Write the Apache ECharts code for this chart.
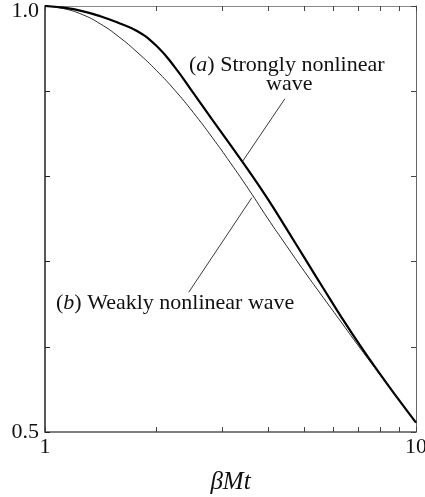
<!DOCTYPE html>
<html>
<head>
<meta charset="utf-8">
<script src="https://cdn.jsdelivr.net/npm/echarts@6/dist/echarts.min.js"></script>
<style>
html, body { margin: 0; padding: 0; background: #fff; }
#container { width: 425px; height: 497px; }
</style>
</head>
<body>
<div id="container"></div>
<script>
var dom = document.getElementById("container");
var myChart = echarts.init(dom);

// βMt values, read at even steps along the log axis
var betaMt = [1, 1.12, 1.26, 1.41, 1.58, 1.78, 2.0, 2.24, 2.51, 2.82, 3.16, 3.55, 3.98, 4.47, 5.01, 5.62, 6.31, 7.08, 7.94, 8.91, 10];
// (a) strongly nonlinear wave - thick line
var strongWave = [1.000, 0.998, 0.994, 0.988, 0.980, 0.970, 0.953, 0.928, 0.898, 0.867, 0.837, 0.806, 0.774, 0.739, 0.704, 0.669, 0.634, 0.601, 0.570, 0.540, 0.511];
// (b) weakly nonlinear wave - thin line
var weakWave = [1.000, 0.997, 0.990, 0.979, 0.964, 0.945, 0.924, 0.901, 0.875, 0.846, 0.816, 0.784, 0.751, 0.719, 0.688, 0.658, 0.628, 0.598, 0.569, 0.540, 0.511];

var xTicks = [1, 2, 3, 4, 5, 6, 7, 8, 9, 10];
var xLabels = [1, 10];
var yLabels = [0.5, 1.0];

// pointer lines from the labels to the curves [x1, y1, x2, y2]
var pointerA = [4.43, 0.891, 3.40, 0.817];
var pointerB = [2.44, 0.664, 3.61, 0.775];

function pairs(xs, ys) {
    var d = [];
    for (var i = 0; i < xs.length; i++) d.push([xs[i], ys[i]]);
    return d;
}

var serif = "'Liberation Serif', 'Times New Roman', serif";

var xBase = {
    type: 'log',
    logBase: 10,
    min: 1,
    max: 10,
    splitLine: { show: false },
    axisTick: { show: true, inside: true, length: 5, customValues: xTicks, lineStyle: { color: '#444', width: 1 } },
    minorTick: { show: false }
};

var option = {
    animation: false,
    grid: { left: 45, right: 9, top: 6, bottom: 65, containLabel: false, outerBoundsMode: 'none' },
    xAxis: [
        Object.assign({}, xBase, {
            position: 'bottom',
            name: 'βMt',
            nameLocation: 'middle',
            nameGap: 38,
            nameTextStyle: { fontFamily: serif, fontStyle: 'italic', fontSize: 25, color: '#111' },
            axisLine: { show: true, lineStyle: { color: '#555', width: 1.5 } },
            axisLabel: {
                show: true, customValues: xLabels, margin: 4,
                fontFamily: serif, fontSize: 22, color: '#111'
            }
        }),
        Object.assign({}, xBase, {
            position: 'top',
            axisLine: { show: true, lineStyle: { color: '#888', width: 1 } },
            axisLabel: { show: false }
        })
    ],
    yAxis: [
        {
            type: 'value', min: 0.5, max: 1.0, interval: 0.1, position: 'left',
            splitLine: { show: false },
            axisLine: { show: true, lineStyle: { color: '#222', width: 1.5 } },
            axisTick: { show: true, inside: true, length: 5, lineStyle: { color: '#222' } },
            axisLabel: {
                customValues: yLabels, margin: 6,
                fontFamily: serif, fontSize: 22, color: '#111',
                formatter: function (v) {
                    return v > 0.95 ? '{top|1.0}' : v.toFixed(1);
                },
                rich: { top: { fontFamily: serif, fontSize: 22, color: '#111', padding: [10, 0, 0, 0] } }
            }
        },
        {
            type: 'value', min: 0.5, max: 1.0, interval: 0.1, position: 'right',
            splitLine: { show: false },
            axisLine: { show: true, lineStyle: { color: '#666', width: 1 } },
            axisTick: { show: true, inside: true, length: 5, lineStyle: { color: '#444' } },
            axisLabel: { show: false }
        }
    ],
    series: [
        {
            name: '(a) Strongly nonlinear wave',
            type: 'line',
            smooth: 0.5,
            showSymbol: false,
            data: pairs(betaMt, strongWave),
            lineStyle: { color: '#000', width: 2.2 },
            markLine: {
                silent: true, symbol: 'none', label: { show: false },
                lineStyle: { color: '#222', width: 0.9, type: 'solid' },
                data: [[{ coord: [pointerA[0], pointerA[1]] }, { coord: [pointerA[2], pointerA[3]] }]]
            }
        },
        {
            name: '(b) Weakly nonlinear wave',
            type: 'line',
            smooth: 0.5,
            showSymbol: false,
            data: pairs(betaMt, weakWave),
            lineStyle: { color: '#111', width: 0.9 },
            markLine: {
                silent: true, symbol: 'none', label: { show: false },
                lineStyle: { color: '#222', width: 0.9, type: 'solid' },
                data: [[{ coord: [pointerB[0], pointerB[1]] }, { coord: [pointerB[2], pointerB[3]] }]]
            }
        }
    ],
    graphic: [
        {
            type: 'text', left: 189, top: 54,
            style: {
                text: '({i|a}) Strongly nonlinear',
                font: '22px ' + serif, fill: '#111',
                rich: { i: { fontFamily: serif, fontSize: 22, fontStyle: 'italic', fill: '#111' } }
            }
        },
        {
            type: 'text', left: 266, top: 73,
            style: { text: 'wave', font: '22px ' + serif, fill: '#111' }
        },
        {
            type: 'text', left: 56, top: 292,
            style: {
                text: '({i|b}) Weakly nonlinear wave',
                font: '22px ' + serif, fill: '#111',
                rich: { i: { fontFamily: serif, fontSize: 22, fontStyle: 'italic', fill: '#111' } }
            }
        }
    ]
};

myChart.setOption(option);
</script>
</body>
</html>
